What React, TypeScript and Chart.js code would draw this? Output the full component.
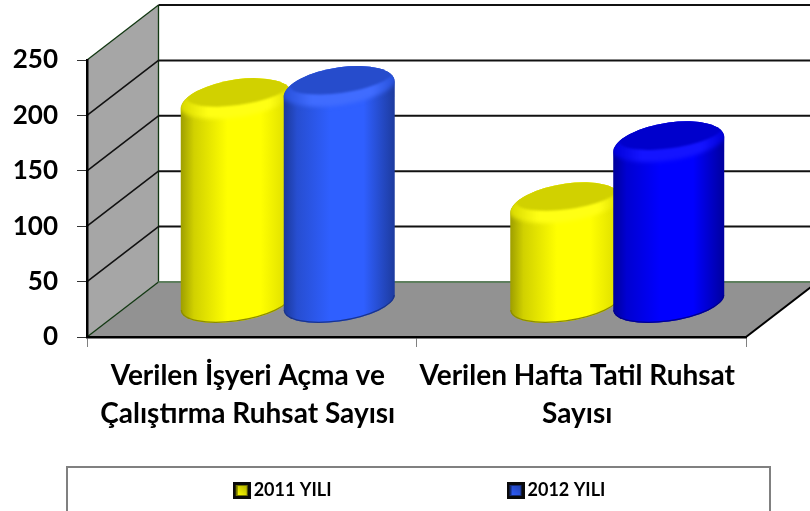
import React, { useEffect, useRef } from "react";
import { Chart, registerables } from "chart.js";

Chart.register(...registerables);

const categories = [
  ["Verilen İşyeri Açma ve", "Çalıştırma Ruhsat Sayısı"],
  ["Verilen Hafta Tatil Ruhsat", "Sayısı"],
];
const seriesNames = ["2011 YILI", "2012 YILI"];
const values2011 = [182, 88];
const values2012 = [193, 143];
const colors2011 = ["#FFFF00", "#FFFF00"];
const colors2012 = ["#2F5FFF", "#0000FF"];

const DX = 71.5;
const DY = -55;
const FONT = "Lato, Carlito, 'Open Sans', sans-serif";

function shade(hex: string, f: number) {
  const n = parseInt(hex.slice(1), 16);
  const r = (n >> 16) & 255, g = (n >> 8) & 255, b = n & 255;
  const m = (c: number) => Math.round(f <= 1 ? c * f : c + (255 - c) * (f - 1));
  return `rgb(${m(r)},${m(g)},${m(b)})`;
}

function legendIcon(color: string) {
  const c = document.createElement("canvas");
  c.width = 18;
  c.height = 17;
  const x = c.getContext("2d")!;
  x.fillStyle = "#0a0a0a";
  x.fillRect(0, 0, 18, 17);
  x.fillStyle = shade(color, 0.45);
  x.fillRect(3, 3, 12, 11);
  const g = x.createLinearGradient(5, 14, 13, 4);
  g.addColorStop(0, color);
  g.addColorStop(1, shade(color, 0.72));
  x.fillStyle = g;
  x.fillRect(5, 4, 9, 9);
  return c;
}

const wallsPlugin = {
  id: "walls",
  afterLayout(chart: any) {
    const lg = chart.legend;
    const pad = lg.options.labels.padding;
    lg.top = 481.5 - pad;
    lg.left += 49;
    lg.right += 49;
  },
  beforeDraw(chart: any) {
    const { ctx, chartArea: a } = chart;
    const ys = chart.scales.y;
    const L = a.left, R = a.right, B = a.bottom, T = a.top;
    ctx.save();
    ctx.fillStyle = "#A6A6A6";
    ctx.beginPath();
    ctx.moveTo(L, B);
    ctx.lineTo(L + DX, B + DY);
    ctx.lineTo(L + DX, T + DY);
    ctx.lineTo(L, T);
    ctx.closePath();
    ctx.fill();
    ctx.fillStyle = "#929292";
    ctx.beginPath();
    ctx.moveTo(L, B);
    ctx.lineTo(R, B);
    ctx.lineTo(R + DX, B + DY);
    ctx.lineTo(L + DX, B + DY);
    ctx.closePath();
    ctx.fill();

    ctx.strokeStyle = "#123812";
    ctx.lineWidth = 1.3;
    ctx.beginPath();
    ctx.moveTo(L + DX, T + DY);
    ctx.lineTo(L + DX, B + DY);
    ctx.stroke();
    ctx.beginPath();
    ctx.moveTo(L, T);
    ctx.lineTo(L + DX, T + DY);
    ctx.stroke();
    ctx.beginPath();
    ctx.moveTo(L, B);
    ctx.lineTo(L + DX, B + DY);
    ctx.stroke();
    ctx.strokeStyle = "#5E7F5E";
    ctx.lineWidth = 2;
    ctx.beginPath();
    ctx.moveTo(L + DX, B + DY);
    ctx.lineTo(R + DX, B + DY);
    ctx.stroke();

    ys.ticks.forEach((t: any) => {
      if (t.value === 0) return;
      const y = ys.getPixelForValue(t.value);
      ctx.strokeStyle = "#111";
      ctx.lineWidth = 2;
      ctx.beginPath();
      ctx.moveTo(L + DX, y + DY);
      ctx.lineTo(R + DX, y + DY);
      ctx.stroke();
      if (t.value < 250) {
        ctx.lineWidth = 1.6;
        ctx.beginPath();
        ctx.moveTo(L, y);
        ctx.lineTo(L + DX, y + DY);
        ctx.stroke();
      }
    });
    ctx.strokeStyle = "#000";
    ctx.lineWidth = 2;
    ctx.beginPath();
    ctx.moveTo(R, B);
    ctx.lineTo(R + DX, B + DY);
    ctx.stroke();
    ctx.restore();
  },
  beforeDatasetDraw() {
    return false;
  },
  afterDatasetsDraw(chart: any) {
    const { ctx } = chart;
    const rx0Shift = 36, baseShift = -34;
    chart.data.datasets.forEach((ds: any, di: number) => {
      chart.getDatasetMeta(di).data.forEach((el: any, i: number) => {
        const color = ds.backgroundColor[i];
        const rx = el.width / 2;
        const ry = 22;
        const k = 0.135;
        const cx = el.x + rx0Shift;
        const topY = el.y + baseShift;
        const baseY = el.base + baseShift;
        const left = cx - rx;
        const right = cx + rx;
        const g = ctx.createLinearGradient(left, 0, right, 0);
        const dark = di === 0 ? 0.62 : 0.6;
        g.addColorStop(0, shade(color, dark));
        g.addColorStop(0.12, shade(color, 0.82));
        g.addColorStop(0.42, color);
        g.addColorStop(0.72, color);
        g.addColorStop(1, shade(color, di === 0 ? 0.85 : 0.62));

        const place = (y: number) => ctx.transform(1, -k, 0, 1, cx, y);

        ctx.save();
        ctx.beginPath();
        ctx.save();
        place(baseY);
        ctx.ellipse(0, 0, rx, ry - 3, 0, Math.PI, 0, true);
        ctx.restore();
        ctx.save();
        place(topY);
        ctx.ellipse(0, 0, rx, ry, 0, 0, Math.PI, true);
        ctx.restore();
        ctx.closePath();
        ctx.fillStyle = g;
        ctx.fill();
        ctx.clip();

        // darker rim along the foot of the cylinder
        ctx.save();
        place(baseY);
        ctx.beginPath();
        ctx.ellipse(0, 0, rx, ry - 3, 0, Math.PI, 0, true);
        ctx.restore();
        ctx.strokeStyle = shade(color, 0.55);
        ctx.lineWidth = 2.5;
        ctx.stroke();

        // bevel band below the top face
        ctx.save();
        place(topY - 3);
        ctx.beginPath();
        ctx.ellipse(0, 0, rx + 2, 19, 0, 0, Math.PI * 2);
        ctx.restore();
        ctx.save();
        ctx.filter = "blur(2px)";
        const g2 = ctx.createLinearGradient(left, 0, right, 0);
        g2.addColorStop(0, shade(color, 0.85));
        g2.addColorStop(0.25, shade(color, 1.08));
        g2.addColorStop(0.8, shade(color, 1.08));
        g2.addColorStop(1, shade(color, 0.85));
        ctx.fillStyle = g2;
        ctx.fill();
        ctx.restore();

        // top face
        ctx.save();
        ctx.filter = "blur(1px)";
        place(topY - 10);
        ctx.beginPath();
        ctx.ellipse(2, 0, rx * 0.93, 14, 0, 0, Math.PI * 2);
        ctx.fillStyle = shade(color, di === 0 ? 0.82 : 0.8);
        ctx.fill();
        ctx.restore();
        ctx.restore();
      });
    });
  },
  afterDraw(chart: any) {
    const { ctx } = chart;
    ctx.save();
    ctx.strokeStyle = "#808080";
    ctx.lineWidth = 2;
    ctx.strokeRect(67, 467, 703, 60);
    ctx.restore();
  },
};

export default function App() {
  const ref = useRef<HTMLCanvasElement>(null);
  useEffect(() => {
    const icons = [legendIcon(colors2011[0]), legendIcon(colors2012[0])];
    const chart = new Chart(ref.current!, {
      type: "bar",
      data: {
        labels: categories,
        datasets: [
          { label: seriesNames[0], data: values2011, backgroundColor: colors2011, categoryPercentage: 0.625, barPercentage: 1.078 },
          { label: seriesNames[1], data: values2012, backgroundColor: colors2012, categoryPercentage: 0.625, barPercentage: 1.078 },
        ],
      },
      options: {
        responsive: false,
        animation: false,
        layout: { padding: { left: 0, top: 60, right: 64, bottom: 0 } },
        scales: {
          x: {
            grid: { drawOnChartArea: false, drawTicks: true, tickLength: 10, color: "#808080", offset: true },
            border: { color: "#000", width: 2.5 },
            ticks: {
              color: "#000",
              maxRotation: 0,
              autoSkip: false,
              labelOffset: -4,
              padding: 10,
              font: { family: FONT, size: 28, weight: "bold", lineHeight: 1.36 },
            },
            afterFit(s: any) {
              s.height = 134;
            },
          },
          y: {
            min: 0,
            max: 250,
            ticks: {
              stepSize: 50,
              color: "#000",
              padding: 19,
              font: { family: FONT, size: 26, weight: "bold" },
            },
            grid: { drawOnChartArea: false, drawTicks: true, tickLength: 10, color: "#333" },
            border: { color: "#000", width: 2.5 },
            afterFit(s: any) {
              s.width = 87;
            },
          },
        },
        plugins: {
          tooltip: { enabled: false },
          legend: {
            position: "bottom",
            maxHeight: 40,
            labels: {
              usePointStyle: true,
              pointStyleWidth: 6,
              padding: 181,
              color: "#000",
              font: { family: FONT, size: 18, weight: "bold" },
              generateLabels: (c: any) =>
                c.data.datasets.map((d: any, i: number) => ({
                  text: d.label,
                  fillStyle: d.backgroundColor[0],
                  strokeStyle: d.backgroundColor[0],
                  lineWidth: 0,
                  hidden: false,
                  datasetIndex: i,
                  pointStyle: icons[i],
                  fontColor: "#000",
                })),
            },
          },
        },
      },
      plugins: [wallsPlugin],
    } as any);
    return () => chart.destroy();
  }, []);
  return (
    <canvas
      ref={ref}
      width={810}
      height={511}
      style={{ position: "absolute", left: 0, top: 0, display: "block" }}
    />
  );
}
